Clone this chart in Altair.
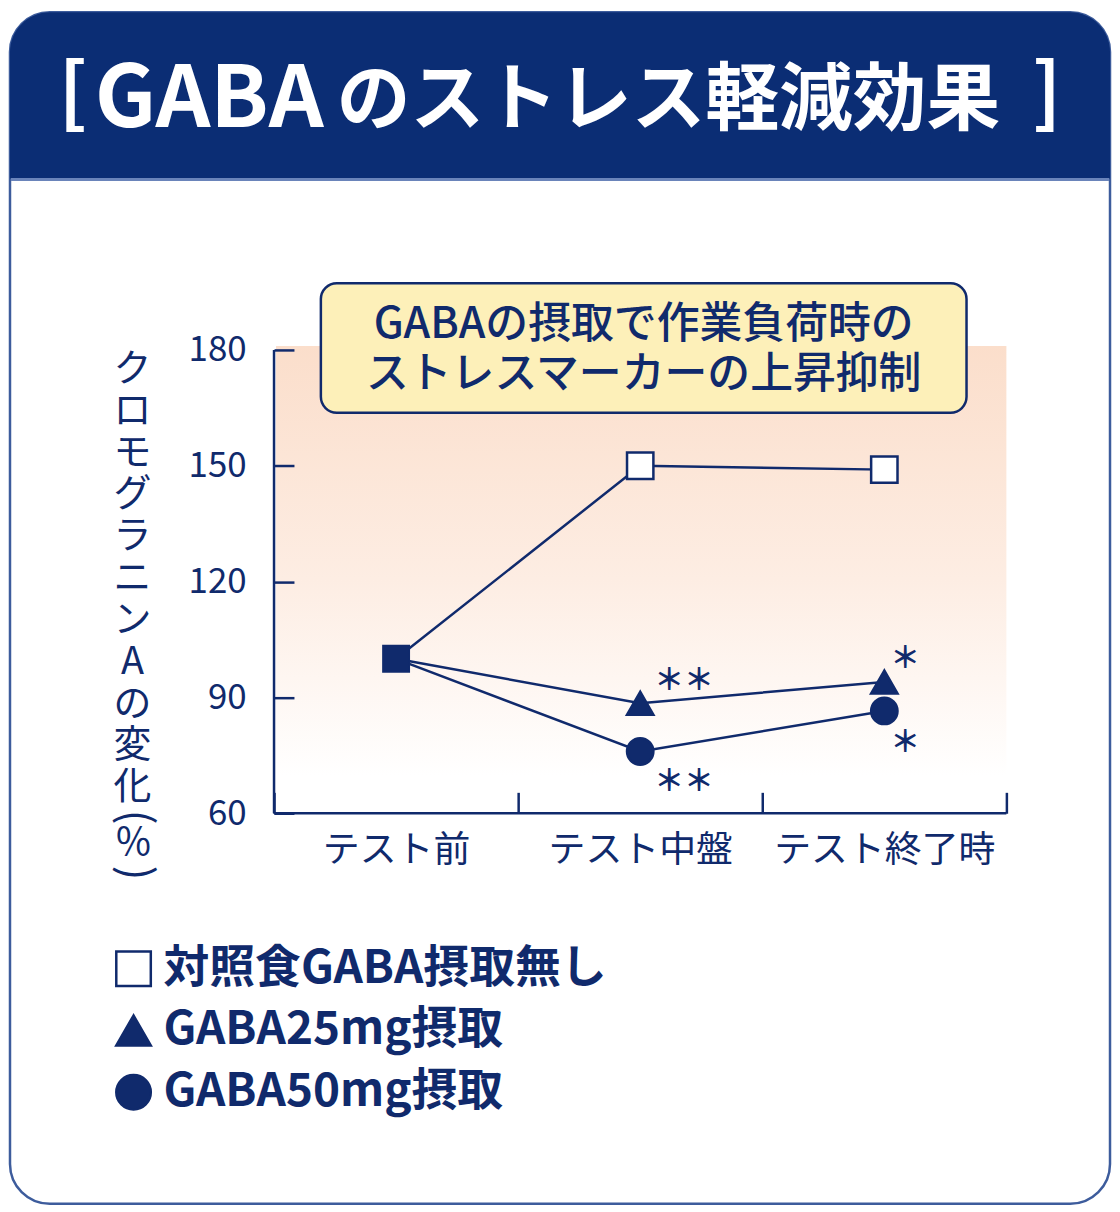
import altair as alt
import pandas as pd

# ---------------- data ----------------
times = ['テスト前', 'テスト中盤', 'テスト終了時']
series_names = ['対照食GABA摂取無し', 'GABA25mg摂取', 'GABA50mg摂取']
control = [100, 150, 149]
gaba25 = [100, 88.5, 94]
gaba50 = [100, 76, 86.5]
y_ticks = [60, 90, 120, 150, 180]
sig_labels = ['＊＊', '＊＊', '＊', '＊']
sig_series = ['GABA25mg摂取', 'GABA50mg摂取', 'GABA25mg摂取', 'GABA50mg摂取']
sig_times = ['テスト中盤', 'テスト中盤', 'テスト終了時', 'テスト終了時']
title_parts = ['[', 'GABA', 'のストレス軽減効果', ']']
callout_lines = ['GABAの摂取で作業負荷時の', 'ストレスマーカーの上昇抑制']
y_title_main = 'クロモグラニンAの変化'
y_title_unit = ['(', '％', ')']

# ---------------- styles ----------------
NAVY = '#102a6c'
HEADER = '#0b2d74'
FONT = 'Noto Sans CJK JP'
W, H = 735, 465

rows = []
for s, vals in zip(series_names, [control, gaba25, gaba50]):
    for t, v in zip(times, vals):
        rows.append({'series': s, 'time': t, 'value': v})
df = pd.DataFrame(rows)
df_later = df[df['time'] != times[0]]
df_start = df[(df['time'] == times[0]) & (df['series'] == series_names[0])]

lookup = {(r['series'], r['time']): r['value'] for r in rows}
sig_rows = [{'label': l, 'series': s, 'time': t, 'value': lookup[(s, t)]}
            for l, s, t in zip(sig_labels, sig_series, sig_times)]

x_enc = alt.X('time:N', sort=times,
              scale=alt.Scale(type='band', domain=times, paddingInner=0, paddingOuter=0),
              axis=alt.Axis(title=None, domain=False, tickBand='extent', tickSize=21,
                            tickWidth=2.5, tickColor=NAVY, offset=-21, labelPadding=19,
                            labelFontSize=37, labelColor=NAVY, labelFont=FONT,
                            labelAngle=0, labelLimit=400, grid=False, zindex=1))
y_enc = alt.Y('value:Q',
              scale=alt.Scale(domain=[60, 180], nice=False, zero=False),
              axis=alt.Axis(title=None, values=y_ticks, domain=False, tickSize=20,
                            tickWidth=2.5, tickColor=NAVY, offset=-20, labelPadding=28,
                            labelFontSize=35, labelColor=NAVY, labelFont=FONT, grid=False,
                            zindex=1))

one = pd.DataFrame({'k': [0]})

def box(x, x2, y, y2, **kw):
    return alt.Chart(one).mark_rect(**kw).encode(
        x=alt.value(x), x2=alt.value(x2), y=alt.value(y), y2=alt.value(y2))

def label(txt, x, y, **kw):
    return alt.Chart(pd.DataFrame({'t': [txt]})).mark_text(font=FONT, **kw).encode(
        x=alt.value(x), y=alt.value(y), text='t:N')

frame = box(-265, 839, -339, 857, fill='white', stroke='#3d5c9c', strokeWidth=2.5,
            cornerRadius=40)
header = box(-265, 839, -339, -172, fill=HEADER, cornerRadiusTopLeft=40,
             cornerRadiusTopRight=40)
header_line = alt.Chart(one).mark_rule(color='#6a84ba', strokeWidth=3).encode(
    x=alt.value(-264), x2=alt.value(838), y=alt.value(-171))
t_open = label(title_parts[0], -216, -255, fontSize=76, fontWeight='bold', color='white',
               align='left', baseline='middle')
t_gaba = label(title_parts[1], -180, -224, fontSize=86, fontWeight='bold', color='white',
               align='left', baseline='alphabetic')
t_rest = label(title_parts[2], 63, -227, fontSize=74, fontWeight='bold', color='white',
               align='left', baseline='alphabetic')
t_close = label(title_parts[3], 790, -255, fontSize=76, fontWeight='bold', color='white',
                align='right', baseline='middle')

grad = box(2, W, -4, H, fill=alt.Gradient(
    gradient='linear', x1=0, x2=0, y1=0, y2=1,
    stops=[alt.GradientStop(color='#fbdecb', offset=0),
           alt.GradientStop(color='#fdede3', offset=0.5),
           alt.GradientStop(color='#ffffff', offset=0.92),
           alt.GradientStop(color='#ffffff', offset=1)]))

callout = box(47, 695, -67, 63, fill='#fdf0b9', stroke=NAVY, strokeWidth=2.5,
              cornerRadius=16)
call1 = label(callout_lines[0], 371, -25, fontSize=43, fontWeight=500, color=NAVY,
              align='center', baseline='middle')
call2 = label(callout_lines[1], 371, 25, fontSize=43, fontWeight=500, color=NAVY,
              align='center', baseline='middle')

yaxis_line = alt.Chart(one).mark_rule(color=NAVY, strokeWidth=2.5).encode(
    x=alt.value(0), y=alt.value(0), y2=alt.value(H))
xaxis_line = alt.Chart(one).mark_rule(color=NAVY, strokeWidth=2.5).encode(
    x=alt.value(0), x2=alt.value(W), y=alt.value(H))

lines = alt.Chart(df).mark_line(color=NAVY, strokeWidth=2.5).encode(
    x=x_enc, y=y_enc, detail='series:N')

leg = alt.Legend(orient='none', legendX=-164, legendY=598, title=None, symbolSize=1200,
                 labelFontSize=46, labelFont=FONT, labelFontWeight='bold',
                 labelColor=NAVY, symbolStrokeColor=NAVY, symbolStrokeWidth=2.5,
                 rowPadding=16, labelOffset=7, padding=0, labelLimit=800,
                 direction='vertical')
points = alt.Chart(df_later).mark_point(strokeWidth=2.5, opacity=1, size=700).encode(
    x=x_enc, y=y_enc,
    shape=alt.Shape('series:N', scale=alt.Scale(domain=series_names,
                    range=['square', 'triangle-up', 'circle']), legend=leg),
    fill=alt.Fill('series:N', scale=alt.Scale(domain=series_names,
                  range=['white', NAVY, NAVY]), legend=leg),
    stroke=alt.Stroke('series:N', scale=alt.Scale(domain=series_names,
                      range=[NAVY, NAVY, NAVY]), legend=leg))
start = alt.Chart(df_start).mark_point(shape='square', filled=True, fill=NAVY,
                                       stroke=NAVY, strokeWidth=2, opacity=1,
                                       size=676).encode(x=x_enc, y=y_enc)

sig_layers = []
offsets = {('テスト中盤', 'GABA25mg摂取'): (44, -22),
           ('テスト中盤', 'GABA50mg摂取'): (44, 31),
           ('テスト終了時', 'GABA25mg摂取'): (21, -23),
           ('テスト終了時', 'GABA50mg摂取'): (21, 32)}
for r in sig_rows:
    dx, dy = offsets[(r['time'], r['series'])]
    sig_layers.append(
        alt.Chart(pd.DataFrame([r])).mark_text(font=FONT, fontSize=30, fontWeight='bold',
                                               color=NAVY, dx=dx, dy=dy,
                                               baseline='middle', align='center').encode(
            x=x_enc, y=y_enc, text='label:N'))

ytitle_main = alt.Chart(pd.DataFrame({'t': ['\n'.join(y_title_main)]})).mark_text(
    font=FONT, fontSize=38, color=NAVY, lineBreak='\n', lineHeight=42,
    align='center', baseline='top').encode(x=alt.value(-142), y=alt.value(1), text='t:N')
u_open = label(y_title_unit[0], -141, 469, fontSize=44, color=NAVY, angle=90,
               align='center', baseline='middle')
u_pct = label(y_title_unit[1], -141, 496, fontSize=38, color=NAVY,
              align='center', baseline='middle')
u_close = label(y_title_unit[2], -141, 525, fontSize=44, color=NAVY, angle=90,
                align='center', baseline='middle')

chart = alt.layer(frame, header, header_line, t_open, t_gaba, t_rest, t_close,
                  grad, callout, call1, call2,
                  yaxis_line, xaxis_line, lines, points, start, *sig_layers,
                  ytitle_main, u_open, u_pct, u_close
                  ).properties(width=W, height=H, padding=0).configure_view(strokeWidth=0)

chart.save('out.html', embed_options={'renderer': 'svg', 'actions': False})
